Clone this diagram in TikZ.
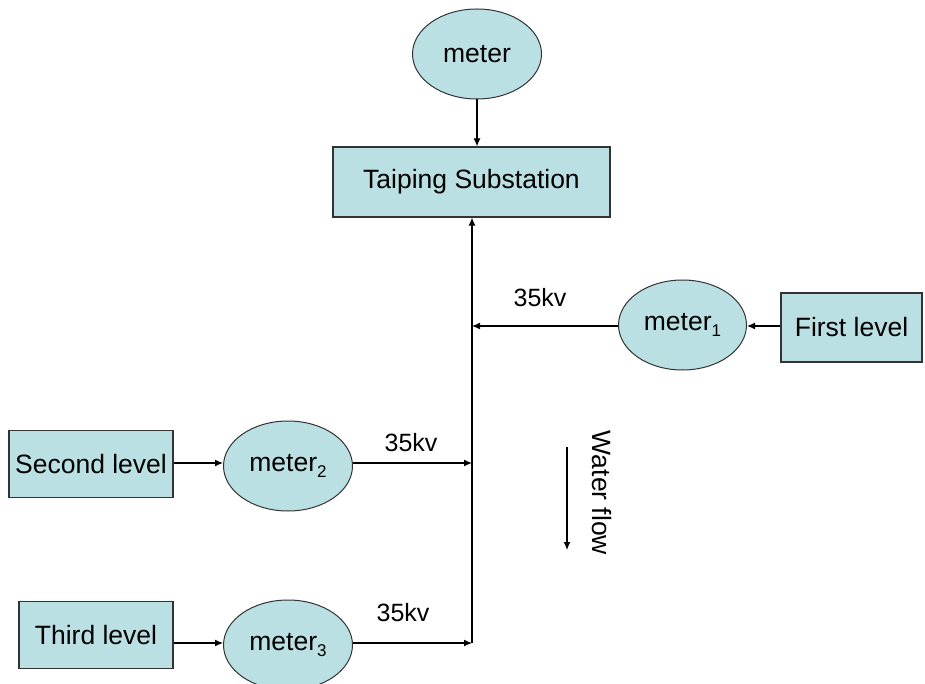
\documentclass[tikz,border=0pt]{standalone}
\usepackage{fontspec}
\setmainfont{Liberation Sans}
\usetikzlibrary{shapes.geometric,arrows.meta}
\definecolor{fillblue}{RGB}{187,224,227}
\newcommand{\msub}[1]{\raisebox{-0.45ex}{\fontsize{17}{17}\selectfont #1}}
\begin{document}
\begin{tikzpicture}[x=1pt,y=-1pt,
  txt/.style={font=\fontsize{26.5}{30}\selectfont},
  meterell/.style={ellipse,draw=black!80,line width=1pt,fill=fillblue,minimum width=129pt,minimum height=90pt,inner sep=0pt,txt},
  levelbox/.style={rectangle,draw=black!80,line width=1.2pt,fill=fillblue,inner sep=0pt,txt},
  conn/.style={line width=1.2pt,-{Latex[length=8pt,width=7pt]}},
  lbl/.style={font=\fontsize{25}{30}\selectfont,inner sep=0pt}]
\useasboundingbox (0,0) rectangle (925,684);
\node[meterell] (m0) at (477,54) {meter};
\node[levelbox,minimum width=277pt,minimum height=70pt] (sub) at (471.5,182) {Taiping Substation};
\node[meterell,minimum width=128pt] (m1) at (682.5,325) {meter\msub{1}};
\node[levelbox,minimum width=141pt,minimum height=69pt] (l1) at (851.5,327.5) {First level};
\node[levelbox,minimum width=164pt,minimum height=67pt] (l2) at (91,464) {Second level};
\node[meterell] (m2) at (288,466) {meter\msub{2}};
\node[levelbox,minimum width=154pt,minimum height=67pt] (l3) at (96,635) {Third level};
\node[meterell] (m3) at (288,645) {meter\msub{3}};
\coordinate (j1) at (472,326);
\coordinate (j2) at (472,463);
\coordinate (j3) at (472,643);
\coordinate (wt) at (567,447);
\coordinate (wb) at (567,550);
\draw[conn] (m0.south) -- (m0.south |- sub.north);
\draw[conn] (j3) -- (j3 |- sub.south);
\draw[conn] (l1.west |- j1) -- (m1.east |- j1);
\draw[conn] (m1.west |- j1) -- (j1);
\draw[conn] (l2.east |- j2) -- (m2.west |- j2);
\draw[conn] (m2.east |- j2) -- (j2);
\draw[conn] (l3.east |- j3) -- (m3.west |- j3);
\draw[conn] (m3.east |- j3) -- (j3);
\draw[conn] (wt) -- (wb);
\node[lbl] (k1) at (540,298) {35kv};
\node[lbl] (k2) at (411,443) {35kv};
\node[lbl] (k3) at (403,613) {35kv};
\node[txt,inner sep=0pt,rotate=-90] (wf) at (602,493) {Water flow};
\end{tikzpicture}
\end{document}
